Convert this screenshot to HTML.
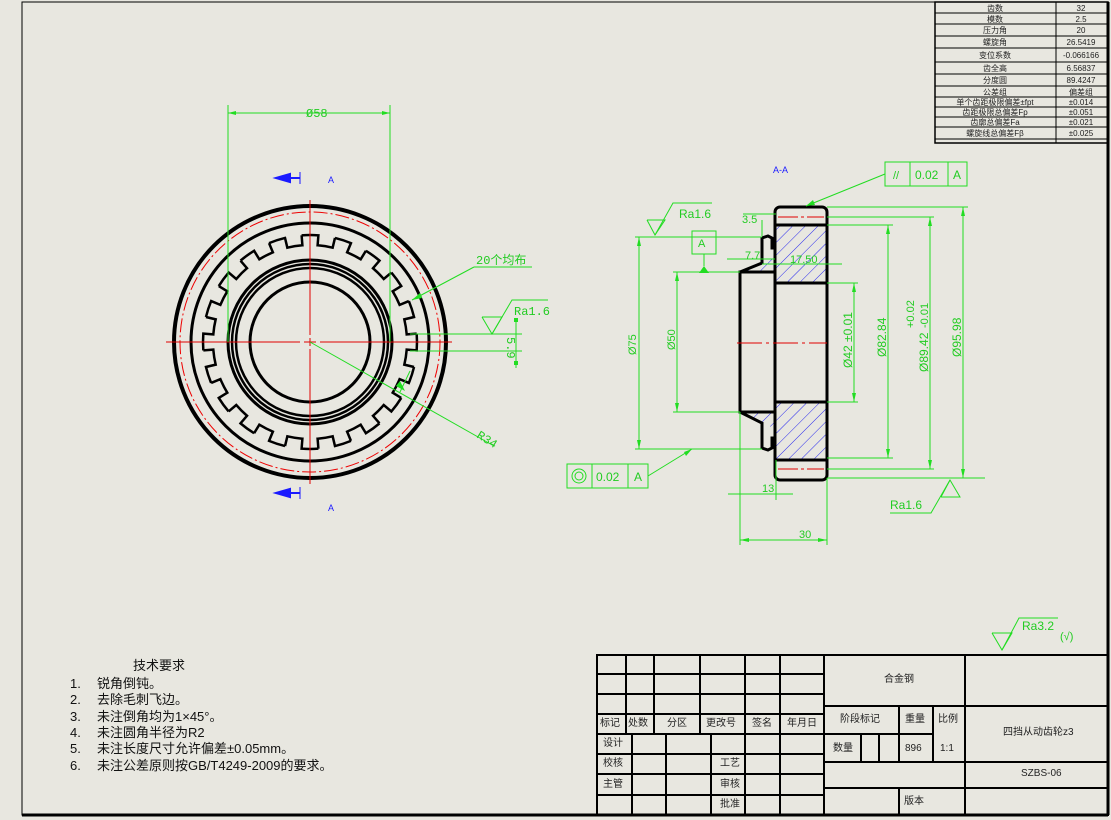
<!DOCTYPE html>
<html><head><meta charset="utf-8"><style>
html,body{margin:0;padding:0;background:#e8e7e0;}
svg{display:block}
text{font-family:"Liberation Sans","Noto Sans CJK SC",sans-serif;}
.g{stroke:#22dd22;fill:none;stroke-width:1}
.gt{fill:#22cc22;font-size:12px;font-family:"Liberation Mono","Noto Sans CJK SC",monospace}
.k{stroke:#000;fill:none;stroke-width:3}
.r{stroke:#e00000;fill:none;stroke-width:1}
.t{font-size:8px;fill:#222}
.tb{font-size:10px;fill:#222}
.n{font-size:13px;fill:#111}
</style></head><body>
<svg width="1111" height="820" viewBox="0 0 1111 820" xmlns="http://www.w3.org/2000/svg">
<defs>
<pattern id="h" width="9" height="9" patternUnits="userSpaceOnUse" patternTransform="rotate(45)">
<line x1="0" y1="0" x2="0" y2="9" stroke="#2a2aee" stroke-width="1"/>
</pattern>
<path id="tooth" d="M106.67,-8.39 A107 107 0 0 1 106.67,8.39 L96.70,7.61 A97 97 0 0 1 94.32,22.65 L104.04,24.98" fill="none" stroke="#000" stroke-width="2.5"/>
</defs>
<rect x="0" y="0" width="1111" height="820" fill="#e8e7e0"/>
<rect x="22" y="2" width="1086" height="813" fill="none" stroke="#000" stroke-width="1"/>
<line x1="1108" y1="2" x2="1108" y2="815" stroke="#000" stroke-width="3"/>
<line x1="22" y1="815" x2="1108" y2="815" stroke="#000" stroke-width="3"/>

<g stroke="#000" stroke-width="1" fill="none">
<rect x="935" y="2" width="173" height="141" stroke-width="1.5"/>
<line x1="1056" y1="2" x2="1056" y2="143"/>
<line x1="935" y1="13" x2="1108" y2="13"/><line x1="935" y1="24" x2="1108" y2="24"/>
<line x1="935" y1="36" x2="1108" y2="36"/><line x1="935" y1="48" x2="1108" y2="48"/>
<line x1="935" y1="62" x2="1108" y2="62"/><line x1="935" y1="74" x2="1108" y2="74"/>
<line x1="935" y1="86" x2="1108" y2="86"/><line x1="935" y1="97" x2="1108" y2="97"/>
<line x1="935" y1="107" x2="1108" y2="107"/><line x1="935" y1="117" x2="1108" y2="117"/>
<line x1="935" y1="127" x2="1108" y2="127"/><line x1="935" y1="139" x2="1108" y2="139"/>
</g>
<g class="t" text-anchor="middle">
<text x="995" y="11">齿数</text><text x="1081" y="11">32</text>
<text x="995" y="22">模数</text><text x="1081" y="22">2.5</text>
<text x="995" y="33">压力角</text><text x="1081" y="33">20</text>
<text x="995" y="45">螺旋角</text><text x="1081" y="45">26.5419</text>
<text x="995" y="58">变位系数</text><text x="1081" y="58">-0.066166</text>
<text x="995" y="71">齿全高</text><text x="1081" y="71">6.56837</text>
<text x="995" y="83">分度圆</text><text x="1081" y="83">89.4247</text>
<text x="995" y="95">公差组</text><text x="1081" y="95">偏差组</text>
<text x="995" y="105">单个齿距极限偏差±fpt</text><text x="1081" y="105">±0.014</text>
<text x="995" y="115">齿距极限总偏差Fp</text><text x="1081" y="115">±0.051</text>
<text x="995" y="125">齿廓总偏差Fa</text><text x="1081" y="125">±0.021</text>
<text x="995" y="136">螺旋线总偏差Fβ</text><text x="1081" y="136">±0.025</text>
</g>

<g>
<circle cx="310" cy="342" r="136" fill="none" stroke="#000" stroke-width="4"/>
<circle cx="310" cy="342" r="130" fill="none" stroke="#e00" stroke-width="1" stroke-dasharray="14 3 2 3"/>
<circle cx="310" cy="342" r="119" fill="none" stroke="#000" stroke-width="3"/>
<g transform="translate(310 342)">
<use href="#tooth"/><use href="#tooth" transform="rotate(18)"/><use href="#tooth" transform="rotate(36)"/><use href="#tooth" transform="rotate(54)"/><use href="#tooth" transform="rotate(72)"/><use href="#tooth" transform="rotate(90)"/><use href="#tooth" transform="rotate(108)"/><use href="#tooth" transform="rotate(126)"/><use href="#tooth" transform="rotate(144)"/><use href="#tooth" transform="rotate(162)"/><use href="#tooth" transform="rotate(180)"/><use href="#tooth" transform="rotate(198)"/><use href="#tooth" transform="rotate(216)"/><use href="#tooth" transform="rotate(234)"/><use href="#tooth" transform="rotate(252)"/><use href="#tooth" transform="rotate(270)"/><use href="#tooth" transform="rotate(288)"/><use href="#tooth" transform="rotate(306)"/><use href="#tooth" transform="rotate(324)"/><use href="#tooth" transform="rotate(342)"/>
</g>
<circle cx="310" cy="342" r="82" fill="none" stroke="#000" stroke-width="3"/>
<circle cx="310" cy="342" r="78" fill="none" stroke="#000" stroke-width="2.5"/>
<circle cx="310" cy="342" r="74" fill="none" stroke="#000" stroke-width="2.5"/>
<circle cx="310" cy="342" r="60" fill="none" stroke="#000" stroke-width="3"/>
<line x1="166" y1="342" x2="300" y2="342" class="r"/><line x1="304" y1="342" x2="316" y2="342" class="r"/><line x1="320" y1="342" x2="452" y2="342" class="r"/>
<line x1="310" y1="200" x2="310" y2="335" class="r"/><line x1="310" y1="338" x2="310" y2="346" class="r"/><line x1="310" y1="349" x2="310" y2="484" class="r"/>
</g>
<g class="g">
<line x1="228" y1="105" x2="228" y2="342"/><line x1="390" y1="105" x2="390" y2="342"/>
<line x1="228" y1="113" x2="390" y2="113"/>
<line x1="474" y1="267" x2="532" y2="267"/>
<line x1="412" y1="300" x2="474" y2="267"/>
<line x1="410" y1="334" x2="522" y2="334"/><line x1="410" y1="351" x2="522" y2="351"/>
<line x1="516" y1="318" x2="516" y2="368"/>
<polyline points="482,317 492,334 502,317 482,317"/><polyline points="492,334 512,300 548,300"/>
<line x1="310" y1="342" x2="494" y2="446"/>
<line x1="410" y1="371" x2="400" y2="392"/>
</g>
<g fill="#22dd22"><polygon points="228,113 236,111 236,115"/><polygon points="390,113 382,111 382,115"/><polygon points="412,300 420,293 422,298"/><polygon points="405,391 396,386 400,381"/><rect x="514" y="318" width="4" height="4"/><rect x="514" y="361" width="4" height="4"/></g>
<text class="gt" x="306" y="117" font-size="11">Ø58</text>
<text class="gt" x="476" y="264">20个均布</text>
<text class="gt" x="514" y="315">Ra1.6</text>
<text class="gt" x="0" y="0" font-size="10" transform="translate(507 337) rotate(90)">5.9</text>
<text class="gt" x="0" y="0" font-size="10" transform="translate(476 437) rotate(32)">R34</text>
<g stroke="#1a1aff" stroke-width="2" fill="#1a1aff">
<line x1="276" y1="178" x2="300" y2="178"/><polygon points="276,178 290,174 290,182"/><line x1="300" y1="172" x2="300" y2="184" stroke-width="1"/>
<line x1="276" y1="493" x2="300" y2="493"/><polygon points="276,493 290,489 290,497"/><line x1="300" y1="487" x2="300" y2="499" stroke-width="1"/>
</g>
<text x="328" y="183" font-size="9" fill="#1a1aff">A</text>
<text x="328" y="511" font-size="9" fill="#1a1aff">A</text>
<text x="773" y="173" font-size="9" fill="#1a1aff">A-A</text>

<g>
<rect x="775" y="225" width="52" height="58" fill="url(#h)"/>
<rect x="775" y="402" width="52" height="58" fill="url(#h)"/>
<polygon points="762,262 775,258 775,272 745,272" fill="url(#h)"/>
<polygon points="745,412 775,412 775,428 762,424" fill="url(#h)"/>
<rect x="775" y="207" width="52" height="273" rx="5" fill="none" stroke="#000" stroke-width="3"/>
<line x1="775" y1="225" x2="827" y2="225" class="k"/><line x1="775" y1="283" x2="827" y2="283" class="k"/>
<line x1="775" y1="402" x2="827" y2="402" class="k"/><line x1="775" y1="460" x2="827" y2="460" class="k"/>
<polyline class="k" points="775,272 740,272 740,412 775,412"/>
<polyline class="k" points="740,272 762,263 762,238 768,236 772,238 772,248 775,248" stroke-width="2.5"/>
<polyline class="k" points="740,412 762,423 762,448 768,450 772,448 772,438 775,438" stroke-width="2.5"/>
<line x1="737" y1="343" x2="827" y2="343" class="r" stroke-dasharray="25 4 3 4"/>
<line x1="778" y1="217" x2="824" y2="217" class="r" stroke-dasharray="20 3 3 3"/>
<line x1="778" y1="469" x2="824" y2="469" class="r" stroke-dasharray="20 3 3 3"/>
</g>
<g class="g">
<line x1="827" y1="207" x2="968" y2="207"/><line x1="827" y1="478" x2="985" y2="478"/>
<line x1="963" y1="207" x2="963" y2="478"/>
<line x1="827" y1="217" x2="934" y2="217"/><line x1="827" y1="469" x2="934" y2="469"/>
<line x1="930" y1="217" x2="930" y2="469"/>
<line x1="827" y1="225" x2="893" y2="225"/><line x1="827" y1="458" x2="893" y2="458"/>
<line x1="888" y1="225" x2="888" y2="458"/>
<line x1="827" y1="283" x2="858" y2="283"/><line x1="827" y1="402" x2="858" y2="402"/>
<line x1="854" y1="283" x2="854" y2="402"/>
<line x1="635" y1="237" x2="762" y2="237"/><line x1="635" y1="449" x2="762" y2="449"/>
<line x1="639" y1="237" x2="639" y2="449"/>
<line x1="673" y1="272" x2="740" y2="272"/><line x1="673" y1="412" x2="740" y2="412"/>
<line x1="677" y1="272" x2="677" y2="412"/>
<line x1="740" y1="412" x2="740" y2="545"/><line x1="827" y1="478" x2="827" y2="545"/>
<line x1="740" y1="540" x2="827" y2="540"/>
<line x1="776" y1="460" x2="776" y2="500"/>
<line x1="728" y1="494" x2="793" y2="494"/>
<line x1="743" y1="214" x2="776" y2="214"/><line x1="762" y1="220" x2="762" y2="236"/>
<line x1="727" y1="259" x2="775" y2="259"/>
<line x1="762" y1="264" x2="842" y2="264"/>
<line x1="806" y1="206" x2="885" y2="174"/>
<line x1="692" y1="449" x2="648" y2="476"/>
<rect x="692" y="231" width="24" height="23"/><line x1="704" y1="254" x2="704" y2="266"/>
<rect x="885" y="162" width="82" height="24"/><line x1="910" y1="162" x2="910" y2="186"/><line x1="948" y1="162" x2="948" y2="186"/>
<rect x="567" y="464" width="81" height="24"/><line x1="592" y1="464" x2="592" y2="488"/><line x1="628" y1="464" x2="628" y2="488"/>
<circle cx="579" cy="476" r="7"/><circle cx="579" cy="476" r="4"/>
<polyline points="647,220 655,235 665,220 647,220"/><polyline points="655,235 673,203 712,203"/>
<polyline points="941,497 950,480 960,497 941,497"/><polyline points="950,480 931,513 890,513"/>
<polyline points="992,633 1002,650 1012,633 992,633"/><polyline points="1002,650 1019,618 1058,618"/>
</g>
<g fill="#22dd22">
<polygon points="704,266 699,273 709,273"/>
<polygon points="963,207 961,216 965,216"/><polygon points="963,478 961,469 965,469"/>
<polygon points="930,217 928,226 932,226"/><polygon points="930,469 928,460 932,460"/>
<polygon points="888,225 886,234 890,234"/><polygon points="888,458 886,449 890,449"/>
<polygon points="854,283 852,292 856,292"/><polygon points="854,402 852,393 856,393"/>
<polygon points="639,237 637,246 641,246"/><polygon points="639,449 637,440 641,440"/>
<polygon points="677,272 675,281 679,281"/><polygon points="677,412 675,403 679,403"/>
<polygon points="740,540 749,538 749,542"/><polygon points="827,540 818,538 818,542"/>
<polygon points="806,206 813,200 815,205"/><polygon points="692,449 684,452 686,456"/>
</g>
<g class="gt">
<text x="679" y="218">Ra1.6</text>
<text x="742" y="223" font-size="11">3.5</text>
<text x="745" y="259" font-size="11">7.7</text>
<text x="790" y="263" font-size="11">17.50</text>
<text x="698" y="247" font-size="11">A</text>
<text x="893" y="179" font-size="11">//</text><text x="915" y="179">0.02</text><text x="953" y="179">A</text>
<text x="596" y="481">0.02</text><text x="634" y="481">A</text>
<text x="762" y="492" font-size="11">13</text>
<text x="799" y="538" font-size="11">30</text>
<text x="890" y="509">Ra1.6</text>
<text x="1022" y="630">Ra3.2</text><text x="1060" y="640" font-size="11">(√)</text>
<text transform="translate(636 355) rotate(-90)" font-size="11">Ø75</text>
<text transform="translate(675 350) rotate(-90)" font-size="11">Ø50</text>
<text transform="translate(852 368) rotate(-90)">Ø42 ±0.01</text>
<text transform="translate(886 357) rotate(-90)">Ø82.84</text>
<text transform="translate(928 372) rotate(-90)">Ø89.42</text>
<text transform="translate(914 328) rotate(-90)" font-size="11">+0.02</text>
<text transform="translate(928 328) rotate(-90)" font-size="11">-0.01</text>
<text transform="translate(961 357) rotate(-90)">Ø95.98</text>
</g>

<g class="n">
<text x="133" y="670">技术要求</text>
<text x="70" y="688">1.</text><text x="97" y="688">锐角倒钝。</text>
<text x="70" y="704">2.</text><text x="97" y="704">去除毛刺飞边。</text>
<text x="70" y="721">3.</text><text x="97" y="721">未注倒角均为1×45°。</text>
<text x="70" y="737">4.</text><text x="97" y="737">未注圆角半径为R2</text>
<text x="70" y="753">5.</text><text x="97" y="753">未注长度尺寸允许偏差±0.05mm。</text>
<text x="70" y="770">6.</text><text x="97" y="770">未注公差原则按GB/T4249-2009的要求。</text>
</g>

<g stroke="#000" stroke-width="2" fill="none">
<rect x="597" y="655" width="511" height="160"/>
<line x1="597" y1="674" x2="824" y2="674"/><line x1="597" y1="694" x2="824" y2="694"/>
<line x1="597" y1="714" x2="824" y2="714"/><line x1="597" y1="734" x2="824" y2="734"/>
<line x1="597" y1="754" x2="824" y2="754"/><line x1="597" y1="774" x2="824" y2="774"/>
<line x1="597" y1="795" x2="824" y2="795"/>
<line x1="626" y1="655" x2="626" y2="734"/><line x1="654" y1="655" x2="654" y2="734"/>
<line x1="700" y1="655" x2="700" y2="734"/><line x1="745" y1="655" x2="745" y2="815"/>
<line x1="780" y1="655" x2="780" y2="815"/><line x1="824" y1="655" x2="824" y2="815"/>
<line x1="632" y1="734" x2="632" y2="815"/><line x1="666" y1="734" x2="666" y2="815"/>
<line x1="711" y1="734" x2="711" y2="815"/>
<line x1="965" y1="655" x2="965" y2="815"/>
<line x1="824" y1="706" x2="1108" y2="706"/><line x1="824" y1="762" x2="1108" y2="762"/>
<line x1="824" y1="788" x2="1108" y2="788"/>
<line x1="899" y1="706" x2="899" y2="762"/><line x1="933" y1="706" x2="933" y2="762"/>
<line x1="861" y1="734" x2="861" y2="762"/><line x1="879" y1="734" x2="879" y2="762"/>
<line x1="899" y1="788" x2="899" y2="815"/>
</g>
<line x1="824" y1="734" x2="933" y2="734" stroke="#000" stroke-width="2"/>
<g class="tb">
<text x="600" y="726">标记</text><text x="628" y="726">处数</text><text x="667" y="726">分区</text><text x="706" y="726">更改号</text><text x="752" y="726">签名</text><text x="787" y="726">年月日</text>
<text x="603" y="746">设计</text><text x="603" y="766">校核</text><text x="603" y="787">主管</text>
<text x="720" y="766">工艺</text><text x="720" y="787">审核</text><text x="720" y="807">批准</text>
<text x="884" y="682">合金钢</text>
<text x="840" y="722">阶段标记</text><text x="905" y="722">重量</text><text x="938" y="722">比例</text>
<text x="833" y="751">数量</text><text x="905" y="751">896</text><text x="940" y="751">1:1</text>
<text x="1003" y="735">四挡从动齿轮z3</text>
<text x="1021" y="776">SZBS-06</text>
<text x="904" y="804">版本</text>
</g>
</svg>
</body></html>
